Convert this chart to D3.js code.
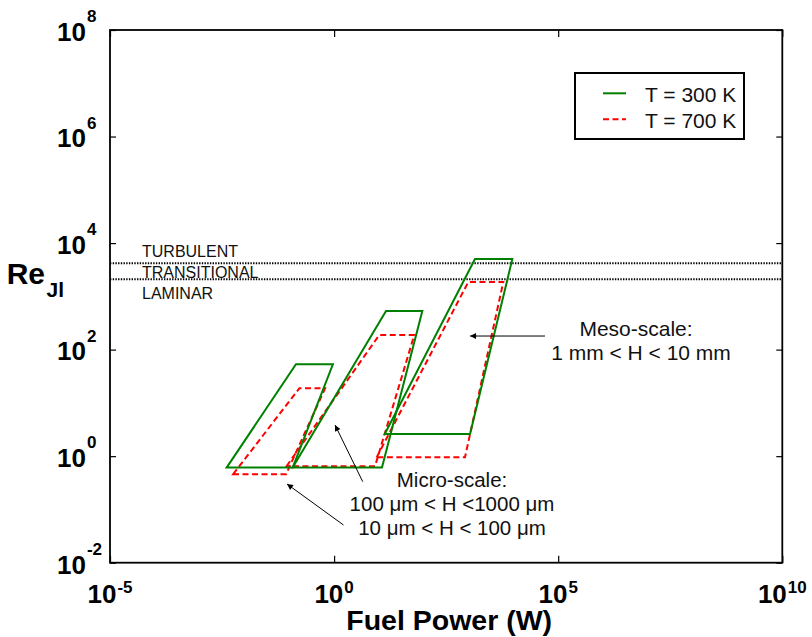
<!DOCTYPE html>
<html>
<head>
<meta charset="utf-8">
<script src="https://cdn.jsdelivr.net/npm/d3@7/dist/d3.min.js"></script>
<style>
  html, body { margin: 0; padding: 0; background: #fff; }
  svg { display: block; font-family: "Liberation Sans", Arial, Helvetica, sans-serif; }
</style>
</head>
<body>
<svg id="chart" width="812" height="637"></svg>
<script>
// Axis ranges and decade ticks
const xDomain = [1e-5, 1e10];
const yDomain = [1e-2, 1e8];
const xTickExp = [-5, 0, 5, 10];
const yTickExp = [-2, 0, 2, 4, 6, 8];

// Flow regime thresholds (Reynolds number)
const regimeBounds = [4200, 2100];
const regimeLabels = ["TURBULENT", "TRANSITIONAL", "LAMINAR"];

// Operating envelopes: [fuel power (W), Re_Jl] vertices
const green300_micro10 = [[0.0040, 0.61], [0.141, 53], [0.94, 53], [0.119, 0.61]];
const green300_micro100 = [[0.119, 0.61], [14.4, 531], [93, 531], [11.7, 0.61]];
const green300_meso = [[13.5, 2.6], [1390, 5000], [9460, 5000], [1080, 2.6]];
const red700_micro10 = [[0.0056, 0.46], [0.168, 18.8], [0.63, 18.8], [0.085, 0.46]];
const red700_micro100 = [[0.087, 0.65], [10.2, 188], [61.5, 188], [8.2, 0.65]];
const red700_meso = [[8.9, 0.95], [986, 1860], [5960, 1860], [832, 0.95]];

// Annotation arrows: [tail, tip] in data units
const arrowMeso = [[5.07e4, 180], [1.08e3, 180]];
const arrowMicro100 = [[4.35, 0.332], [1.05, 3.85]];
const arrowMicro10 = [[1.62, 0.051], [0.089, 0.30]];

const legendLabels = ["T = 300 K", "T = 700 K"];

const GREEN = "#008000";
const RED = "#ff0000";

const svg = d3.select("#chart");
const L = 110, R = 782.3, T = 30, B = 562.7;

const x = d3.scaleLog().domain(xDomain).range([L, R]);
const y = d3.scaleLog().domain(yDomain).range([B, T]);

// inward ticks on all four sides
const xTicks = xTickExp.map(e => Math.pow(10, e));
const yTicks = yTickExp.map(e => Math.pow(10, e));
function styleAxis(g) {
  g.select(".domain").remove();
  g.selectAll(".tick line").attr("stroke", "#000").attr("stroke-width", 1.2);
  g.selectAll(".tick text").remove();
}
svg.append("g").attr("transform", `translate(0,${B})`)
  .call(d3.axisBottom(x).tickValues(xTicks).tickSize(-7).tickFormat("")).call(styleAxis);
svg.append("g").attr("transform", `translate(0,${T})`)
  .call(d3.axisTop(x).tickValues(xTicks).tickSize(-7).tickFormat("")).call(styleAxis);
svg.append("g").attr("transform", `translate(${L},0)`)
  .call(d3.axisLeft(y).tickValues(yTicks).tickSize(-6).tickFormat("")).call(styleAxis);
svg.append("g").attr("transform", `translate(${R},0)`)
  .call(d3.axisRight(y).tickValues(yTicks).tickSize(-6).tickFormat("")).call(styleAxis);

// regime boundaries
svg.append("g").selectAll("line").data(regimeBounds).join("line")
  .attr("x1", L).attr("x2", R)
  .attr("y1", d => y(d)).attr("y2", d => y(d))
  .attr("stroke", "#000").attr("stroke-width", 2)
  .attr("stroke-dasharray", "1.4,1.3");

svg.append("g").selectAll("text").data(regimeLabels).join("text")
  .attr("x", 142)
  .attr("y", (d, i) => [257, 277.5, 299][i])
  .attr("font-size", 16)
  .attr("fill", "#111")
  .text(d => d);

// envelopes
const line = d3.line().x(d => x(d[0])).y(d => y(d[1])).curve(d3.curveLinearClosed);
const greens = [green300_micro10, green300_micro100, green300_meso];
const reds = [red700_micro10, red700_micro100, red700_meso];

svg.append("g").selectAll("path").data(reds).join("path")
  .attr("d", line).attr("fill", "none")
  .attr("stroke", RED).attr("stroke-width", 2)
  .attr("stroke-dasharray", "6,3.5");
svg.append("g").selectAll("path").data(greens).join("path")
  .attr("d", line).attr("fill", "none")
  .attr("stroke", GREEN).attr("stroke-width", 2)
  .attr("stroke-linejoin", "miter");

// frame
svg.append("rect").attr("x", L).attr("y", T)
  .attr("width", R - L).attr("height", B - T)
  .attr("fill", "none").attr("stroke", "#000").attr("stroke-width", 1.8);

// tick labels with superscript exponents
svg.append("g").selectAll("text").data(yTickExp).join("text")
  .attr("x", 57)
  .attr("y", d => y(Math.pow(10, d)) + 10.8)
  .attr("font-weight", "bold").attr("font-size", 26)
  .each(function(d) {
    const t = d3.select(this);
    t.append("tspan").text("10");
    t.append("tspan").attr("font-size", 17).attr("dy", -18.5).attr("dx", 1).text(d);
  });

svg.append("g").selectAll("text").data(xTickExp).join("text")
  .attr("x", d => x(Math.pow(10, d)))
  .attr("y", 603)
  .attr("text-anchor", "middle")
  .attr("font-weight", "bold").attr("font-size", 26)
  .each(function(d) {
    const t = d3.select(this);
    t.append("tspan").text("10");
    t.append("tspan").attr("font-size", 17).attr("dy", -10.5).attr("dx", 1).text(d);
  });

// axis titles
svg.append("text")
  .attr("x", (L + R) / 2 + 3).attr("y", 630)
  .attr("text-anchor", "middle")
  .attr("font-weight", "bold").attr("font-size", 28.5)
  .text("Fuel Power (W)");

svg.append("text")
  .attr("x", 45).attr("y", 283.5)
  .attr("text-anchor", "end")
  .attr("font-weight", "bold").attr("font-size", 30)
  .text("Re");
svg.append("text")
  .attr("x", 46.5).attr("y", 296.7)
  .attr("font-weight", "bold").attr("font-size", 21)
  .text("Jl");

// annotations
const defs = svg.append("defs");
defs.append("marker").attr("id", "head")
  .attr("viewBox", "0 0 10 10").attr("refX", 10).attr("refY", 5)
  .attr("markerWidth", 8).attr("markerHeight", 6)
  .attr("markerUnits", "userSpaceOnUse")
  .attr("orient", "auto")
  .append("path").attr("d", "M0,0 L10,5 L0,10 Z").attr("fill", "#000");

svg.append("g").selectAll("line").data([arrowMeso, arrowMicro100, arrowMicro10]).join("line")
  .attr("x1", d => x(d[0][0])).attr("y1", d => y(d[0][1]))
  .attr("x2", d => x(d[1][0])).attr("y2", d => y(d[1][1]))
  .attr("stroke", "#000").attr("stroke-width", 1)
  .attr("marker-end", "url(#head)");

function block(lines, centers, y0, dy, size) {
  svg.append("g").selectAll("text").data(lines).join("text")
    .attr("x", (d, i) => centers[i]).attr("y", (d, i) => y0 + i * dy)
    .attr("text-anchor", "middle")
    .attr("font-size", size).attr("fill", "#111")
    .text(d => d);
}
block(["Meso-scale:", "1 mm < H < 10 mm"], [636, 641], 336, 24, 21);
block(["Micro-scale:", "100 \u03bcm < H <1000 \u03bcm", "10 \u03bcm < H < 100 \u03bcm"],
      [452, 452, 452], 487, 24, 20.5);

// legend
const lg = svg.append("g");
lg.append("rect").attr("x", 575).attr("y", 73).attr("width", 169).attr("height", 66)
  .attr("fill", "#fff").attr("stroke", "#000").attr("stroke-width", 2);
const legendItems = [
  { label: legendLabels[0], color: GREEN, dash: null },
  { label: legendLabels[1], color: RED, dash: "6,3.5" }
];
legendItems.forEach((it, i) => {
  const ly = 93.3 + i * 26;
  lg.append("line").attr("x1", 603).attr("x2", 626).attr("y1", ly).attr("y2", ly)
    .attr("stroke", it.color).attr("stroke-width", 2)
    .attr("stroke-dasharray", it.dash);
  lg.append("text").attr("x", 645).attr("y", ly + 8.3)
    .attr("font-size", 21).attr("fill", "#111").text(it.label);
});
</script>
</body>
</html>
